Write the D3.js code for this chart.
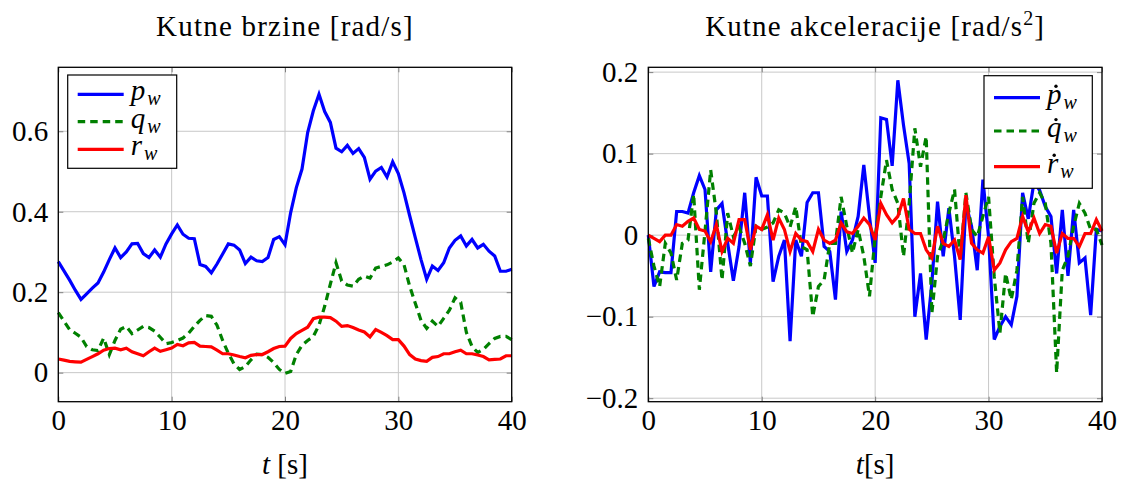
<!DOCTYPE html>
<html>
<head>
<meta charset="utf-8">
<script src="https://cdn.jsdelivr.net/npm/d3@7"></script>
<style>
  body { margin: 0; background: #fff; }
  svg { display: block; }
  text { fill: #000; }
</style>
</head>
<body>
<svg id="chart"></svg>
<script>
// sample times [s]
const time = [
  0, 0.5, 1, 1.5, 2, 2.5, 3, 3.5, 4, 4.5,
  5, 5.5, 6, 6.5, 7, 7.5, 8, 8.5, 9, 9.5,
  10, 10.5, 11, 11.5, 12, 12.5, 13, 13.5, 14, 14.5,
  15, 15.5, 16, 16.5, 17, 17.5, 18, 18.5, 19, 19.5,
  20, 20.5, 21, 21.5, 22, 22.5, 23, 23.5, 24, 24.5,
  25, 25.5, 26, 26.5, 27, 27.5, 28, 28.5, 29, 29.5,
  30, 30.5, 31, 31.5, 32, 32.5, 33, 33.5, 34, 34.5,
  35, 35.5, 36, 36.5, 37, 37.5, 38, 38.5, 39, 39.5,
  40
]

// angular rates [rad/s]
const pw = [
  0.276, 0.253, 0.23, 0.205, 0.182, 0.196, 0.21, 0.223, 0.25, 0.281,
  0.31, 0.286, 0.30, 0.32, 0.321, 0.296, 0.286, 0.305, 0.287, 0.32,
  0.345, 0.367, 0.344, 0.334, 0.333, 0.269, 0.264, 0.248, 0.27, 0.295,
  0.32, 0.317, 0.305, 0.271, 0.287, 0.278, 0.276, 0.286, 0.331, 0.338,
  0.318, 0.398, 0.46, 0.506, 0.597, 0.651, 0.692, 0.649, 0.622, 0.558,
  0.549, 0.565, 0.545, 0.557, 0.535, 0.481, 0.501, 0.51, 0.486, 0.524,
  0.495, 0.447, 0.39, 0.335, 0.281, 0.232, 0.265, 0.254, 0.273, 0.31,
  0.329, 0.34, 0.315, 0.331, 0.31, 0.319, 0.302, 0.29, 0.252, 0.252,
  0.257
]
const qw = [
  0.149, 0.128, 0.107, 0.098, 0.088, 0.065, 0.057, 0.055, 0.086, 0.045,
  0.08, 0.108, 0.115, 0.097, 0.106, 0.115, 0.112, 0.103, 0.088, 0.072,
  0.075, 0.08, 0.086, 0.098, 0.115, 0.13, 0.142, 0.14, 0.118, 0.08,
  0.048, 0.022, 0.008, 0.015, 0.032, 0.046, 0.045, 0.038, 0.025, 0.008,
  -0.002, 0.003, 0.045, 0.068, 0.08, 0.09, 0.118, 0.165, 0.22, 0.273,
  0.228, 0.218, 0.215, 0.232, 0.24, 0.235, 0.26, 0.264, 0.268, 0.275,
  0.285, 0.268, 0.215, 0.172, 0.13, 0.11, 0.128, 0.115, 0.135, 0.155,
  0.186, 0.175, 0.1, 0.065, 0.05, 0.058, 0.072, 0.085, 0.09, 0.09,
  0.082
]
const rw = [
  0.034, 0.031, 0.028, 0.027, 0.026, 0.033, 0.04, 0.047, 0.056, 0.06,
  0.061, 0.057, 0.061, 0.052, 0.047, 0.042, 0.052, 0.061, 0.053, 0.057,
  0.061, 0.07, 0.067, 0.074, 0.075, 0.066, 0.065, 0.064, 0.056, 0.047,
  0.047, 0.044, 0.04, 0.037, 0.043, 0.045, 0.045, 0.052, 0.06, 0.065,
  0.066, 0.085, 0.097, 0.105, 0.113, 0.134, 0.138, 0.138, 0.137, 0.128,
  0.115, 0.117, 0.112, 0.106, 0.101, 0.089, 0.107, 0.1, 0.092, 0.082,
  0.082, 0.066, 0.045, 0.034, 0.03, 0.028, 0.038, 0.04, 0.047, 0.047,
  0.052, 0.056, 0.047, 0.047, 0.044, 0.04, 0.032, 0.033, 0.034, 0.042,
  0.042
]

// angular accelerations [rad/s^2]
const pwDot = [
  0, -0.063, -0.045, -0.046, -0.046, 0.029, 0.029, 0.027, 0.052, 0.073,
  0.056, -0.045, 0.031, 0.039, -0.01, -0.056, -0.014, 0.052, -0.034, 0.071,
  0.048, 0.048, -0.057, -0.026, -0.006, -0.13, -0.006, -0.026, 0.04, 0.052,
  0.052, -0.014, -0.02, -0.079, 0.029, -0.02, -0.006, 0.023, 0.086, 0.023,
  -0.034, 0.144, 0.142, 0.085, 0.19, 0.135, 0.088, -0.1, -0.047, -0.128,
  -0.059, 0.041, -0.026, 0.033, -0.026, -0.104, 0.039, 0.011, -0.043, 0.068,
  -0.002, -0.128, -0.112, -0.1, -0.11, -0.075, 0.052, 0.02, 0.065, 0.055,
  0.035, 0.023, -0.047, 0.031, -0.05, 0.031, -0.034, -0.028, -0.098, 0.007,
  0.005
]
const qwDot = [
  -0.004, -0.038, -0.063, -0.01, -0.022, -0.055, -0.01, -0.006, 0.05, -0.067,
  0.005, 0.08, 0.027, -0.055, 0.027, -0.002, 0.01, -0.01, -0.038, 0.011,
  0.007, 0.01, 0.015, 0.031, 0.027, 0.01, 0.035, -0.014, -0.018, -0.1,
  -0.063, -0.055, -0.01, -0.01, 0.047, 0.011, -0.022, 0.007, -0.026, -0.075,
  -0.002, 0.047, 0.092, 0.056, 0.039, -0.026, 0.039, 0.131, 0.084, 0.121,
  -0.096, -0.026, -0.006, 0.027, 0.056, -0.03, 0.052, 0.007, -0.002, 0.023,
  0.047, -0.051, -0.12, -0.047, -0.079, -0.043, 0.047, -0.01, 0.039, 0.052,
  0.039, -0.01, -0.169, -0.043, -0.026, 0.011, 0.039, 0.027, 0.007, 0.007,
  -0.012
]
const rwDot = [
  0, -0.004, -0.008, 0, 0, 0.013, 0.011, 0.017, 0.021, 0.007,
  0.005, -0.008, 0.013, -0.02, -0.004, -0.01, 0.019, 0.019, -0.018, 0.011,
  0.007, 0.025, -0.006, 0.021, 0.007, -0.02, 0.002, -0.006, -0.008, -0.02,
  0.007, -0.006, -0.01, -0.006, 0.015, 0.004, 0.002, 0.011, 0.021, 0.013,
  -0.006, 0.039, 0.025, 0.015, 0.023, 0.045, 0.007, 0.002, 0.002, -0.018,
  -0.028, 0.011, -0.01, -0.014, -0.006, -0.03, 0.049, -0.01, -0.018, -0.022,
  -0.002, -0.043, -0.034, -0.018, -0.008, -0.004, 0.023, 0.004, 0.021, 0.002,
  0.013, 0.011, -0.022, 0.002, -0.004, -0.004, -0.014, 0.002, 0.002, 0.019,
  0.005
]

// ticks
const xTicks = [0, 10, 20, 30, 40]
const yTicksRates = [0, 0.2, 0.4, 0.6]
const yTicksAcc = [-0.2, -0.1, 0, 0.1, 0.2]

// pick an installed serif font (reference is set in Computer Modern)
const ctx = document.createElement('canvas').getContext('2d')
const probe = 'Kutne brzine 0123456789'
const hasFont = name => {
  ctx.font = '40px monospace'
  const a = ctx.measureText(probe).width
  ctx.font = `40px "${name}", monospace`
  return ctx.measureText(probe).width !== a
}
const fontName = ['Liberation Serif', 'Tinos', 'Times New Roman', 'DejaVu Serif', 'Noto Serif'].find(hasFont) || 'serif'
const fontFamily = `"${fontName}", serif`
ctx.font = `100px ${fontFamily}`
const digitEm = ctx.measureText('0').width / 100
// blend of width match (14.4px digit) and height match
const fontSize = Math.round(0.7 * (14.4 / digitEm) + 0.3 * 29)
const smallSize = Math.round(fontSize * 0.7)

const svg = d3.select('#chart')
  .attr('width', 1124)
  .attr('height', 481)
  .attr('viewBox', [0, 0, 1124, 481])
  .attr('font-family', fontFamily)

const styles = [
  { color: '#0000ff', dash: null },
  { color: '#008000', dash: '7.5,5' },
  { color: '#ff0000', dash: null },
]

const fmtTick = d => d === 0 ? '0' : d3.format('.1f')(d)

function drawPanel(p) {
  const x = d3.scaleLinear().domain([0, 40]).range([p.left, p.right])
  const y = d3.scaleLinear().domain(p.yDomain).range([p.bottom, p.top])
  const g = svg.append('g')

  // grid
  g.append('g')
      .attr('stroke', '#c8c8c8')
      .attr('stroke-width', 1)
    .call(gg => gg.selectAll('line.vx')
      .data(xTicks)
      .join('line')
        .attr('x1', d => x(d)).attr('x2', d => x(d))
        .attr('y1', p.top).attr('y2', p.bottom))
    .call(gg => gg.selectAll('line.hy')
      .data(p.yTicks)
      .join('line')
        .attr('x1', p.left).attr('x2', p.right)
        .attr('y1', d => y(d)).attr('y2', d => y(d)))

  // axes, ticks pointing inward on all four sides
  const styleAxis = a => a
    .attr('font-family', fontFamily)
    .attr('font-size', fontSize)
    .call(a => a.select('.domain').remove())
    .call(a => a.selectAll('.tick line').attr('stroke', '#808080').attr('stroke-width', 1))

  g.append('g')
      .attr('transform', `translate(0,${p.bottom})`)
      .call(d3.axisBottom(x).tickValues(xTicks).tickSize(-5).tickPadding(8).tickFormat(d3.format('d')))
      .call(styleAxis)
  g.append('g')
      .attr('transform', `translate(0,${p.top})`)
      .call(d3.axisTop(x).tickValues(xTicks).tickSize(-5).tickFormat(''))
      .call(styleAxis)
  g.append('g')
      .attr('transform', `translate(${p.left},0)`)
      .call(d3.axisLeft(y).tickValues(p.yTicks).tickSize(-5).tickPadding(10).tickFormat(fmtTick))
      .call(styleAxis)
  g.append('g')
      .attr('transform', `translate(${p.right},0)`)
      .call(d3.axisRight(y).tickValues(p.yTicks).tickSize(-5).tickFormat(''))
      .call(styleAxis)

  // lines
  const line = d3.line()
    .x((d, i) => x(time[i]))
    .y(d => y(d))
  g.append('g')
      .attr('fill', 'none')
      .attr('stroke-width', 3.2)
    .selectAll('path')
    .data(p.series)
    .join('path')
      .attr('d', d => line(d.values))
      .attr('stroke', (d, i) => styles[i].color)
      .attr('stroke-dasharray', (d, i) => styles[i].dash)

  // frame
  g.append('rect')
    .attr('x', p.left).attr('y', p.top)
    .attr('width', p.right - p.left).attr('height', p.bottom - p.top)
    .attr('fill', 'none')
    .attr('stroke', '#000')
    .attr('stroke-width', 1.3)

  // title, stretched to the reference width
  const title = g.append('text')
    .attr('x', (p.left + p.right) / 2)
    .attr('y', 36)
    .attr('text-anchor', 'middle')
    .attr('font-size', fontSize)
  title.append('tspan').text(p.title)
  if (p.titleSup) {
    title.append('tspan').attr('font-size', smallSize).attr('dy', -11).text(p.titleSup)
    title.append('tspan').attr('dy', 11).text(']')
  }
  const nChars = p.title.length + (p.titleSup ? 2 : 0)
  const spacing = (p.titleWidth - title.node().getComputedTextLength()) / nChars
  title.attr('letter-spacing', Math.max(0, Math.min(2, spacing)))

  // x label
  const xl = g.append('text')
    .attr('x', (p.left + p.right) / 2)
    .attr('y', 474)
    .attr('text-anchor', 'middle')
    .attr('font-size', fontSize)
  xl.append('tspan').attr('font-style', 'italic').text('t')
  xl.append('tspan').text(p.xLabelRest)

  // legend
  const lg = g.append('g')
  lg.append('rect')
    .attr('x', p.legend.x).attr('y', p.legend.y)
    .attr('width', p.legend.w).attr('height', p.legend.h)
    .attr('fill', '#fff')
    .attr('stroke', '#000')
    .attr('stroke-width', 1.2)
  p.series.forEach((s, i) => {
    const ry = p.legend.rows[i]
    lg.append('line')
      .attr('x1', p.legend.x + 10).attr('x2', p.legend.x + 56)
      .attr('y1', ry).attr('y2', ry)
      .attr('stroke', styles[i].color)
      .attr('stroke-width', 3.2)
      .attr('stroke-dasharray', styles[i].dash)
    const tx = p.legend.x + 63
    const t = lg.append('text')
      .attr('x', tx).attr('y', ry + 6)
      .attr('font-style', 'italic')
      .attr('font-size', fontSize)
    const main = t.append('tspan').text(s.letter)
    t.append('tspan').attr('font-size', smallSize).attr('dx', 2).attr('dy', 5).text('w')
    if (p.dotted) {
      // dot accent over the letter
      const w = main.node().getComputedTextLength()
      lg.append('circle')
        .attr('cx', tx + w * 0.55 + 1)
        .attr('cy', ry + 6 - fontSize * 0.6)
        .attr('r', 1.7)
        .attr('fill', '#000')
    }
  })
}

drawPanel({
  left: 58.3, right: 511.7, top: 67.3, bottom: 401.7,
  yDomain: [-0.0722, 0.759],
  yTicks: yTicksRates,
  title: 'Kutne brzine [rad/s]',
  titleWidth: 258,
  xLabelRest: ' [s]',
  series: [
    { letter: 'p', values: pw },
    { letter: 'q', values: qw },
    { letter: 'r', values: rw },
  ],
  dotted: false,
  legend: { x: 67.7, y: 75, w: 109, h: 93.3, rows: [94.3, 121.7, 149.3] },
})

drawPanel({
  left: 648.3, right: 1102, top: 67.3, bottom: 401.7,
  yDomain: [-0.2043, 0.2059],
  yTicks: yTicksAcc,
  title: 'Kutne akceleracije [rad/s',
  titleSup: '2',
  titleWidth: 340,
  xLabelRest: '[s]',
  series: [
    { letter: 'p', values: pwDot },
    { letter: 'q', values: qwDot },
    { letter: 'r', values: rwDot },
  ],
  dotted: true,
  legend: { x: 984, y: 75.7, w: 108.3, h: 112.6, rows: [97.7, 131, 166.7] },
})
</script>
</body>
</html>
